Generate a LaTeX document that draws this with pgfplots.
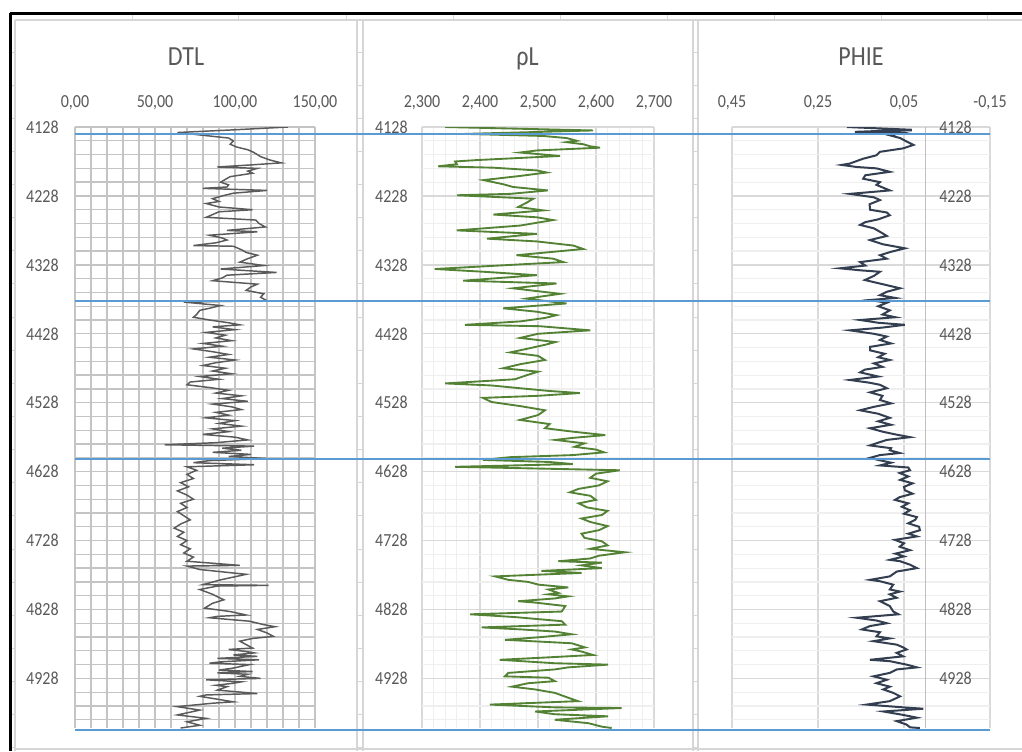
\documentclass[border=0pt]{standalone}
\usepackage{pgfplots}
\pgfplotsset{compat=1.18}
\usepackage{fontspec}
\setmainfont{Carlito}
\usepackage{graphicx}
\definecolor{txt}{HTML}{595959}
\definecolor{dtlgrid}{HTML}{C4C4C4}
\definecolor{majgrid}{HTML}{D9D9D9}
\definecolor{mingrid}{HTML}{EFEFEF}
\definecolor{axln}{HTML}{BFBFBF}
\definecolor{dtlc}{HTML}{5A5A5A}
\definecolor{rhoc}{HTML}{548235}
\definecolor{phic}{HTML}{333F50}
\definecolor{topc}{HTML}{5B9BD5}
\definecolor{cellc}{HTML}{D6D6D6}
\newcommand\sy[1]{\scalebox{1}[1.15]{#1}}
\pgfplotsset{
  logtrack/.style={
    scale only axis, height=450.75pt, anchor=north west,
    y dir=reverse, ymin=4128, ymax=5000,
    ytick={4128,4228,4328,4428,4528,4628,4728,4828,4928},
    minor ytick={4128,4148,...,4988},
    yticklabels={\sy{4128},\sy{4228},\sy{4328},\sy{4428},\sy{4528},\sy{4628},\sy{4728},\sy{4828},\sy{4928}},
    xticklabel pos=upper,
    axis line style={draw=none},
    major tick length=0pt, minor tick length=0pt,
    tick label style={font=\fontsize{12}{14}\selectfont, text=txt},
    xticklabel style={yshift=9.5pt},
    title style={font=\fontsize{18}{22}\selectfont, text=txt, anchor=center,
      text height=13.3pt, text depth=4pt, yshift=45pt},
    grid=both,
  }
}
\begin{document}
\begin{tikzpicture}
\begin{scope}[x=0.75pt,y=-0.75pt]
\useasboundingbox (0,0) rectangle (1022,751);
\fill[white] (0,0) rectangle (1022,751);
% spreadsheet cell marks
\foreach \cx in {132,238,346,453,560,667,774,881,987} {\draw[cellc, line width=0.75pt] (\cx,13) -- (\cx,20);}
\foreach \k in {0,...,21} {
  \draw[cellc, line width=0.75pt] (10,{52+33.14*\k}) -- (15,{52+33.14*\k});
  \draw[cellc, line width=0.75pt] (357,{52+33.14*\k}) -- (363,{52+33.14*\k});
  \draw[cellc, line width=0.75pt] (693,{52+33.14*\k}) -- (698,{52+33.14*\k});
}
% chart borders
\draw[cellc, line width=0.9pt] (15,20) -- (1022,20);
\draw[cellc, line width=0.9pt] (15,749) -- (1022,749);
\foreach \cx in {15,357,363,693,698} {\draw[cellc, line width=0.9pt] (\cx,20) -- (\cx,751);}
% sheet frame
\draw[black, line width=2.2pt] (10,13.3) -- (1022,13.3);
\draw[black, line width=2pt] (10.5,13.3) -- (10.5,751);
\end{scope}

% ---------------- DTL ----------------
\begin{axis}[logtrack, at={(56.25pt,-95.25pt)}, width=180pt,
  xmin=0, xmax=150, xtick={0,50,100,150}, minor xtick={0,10,...,150},
  xticklabels={\sy{0,00},\sy{50,00},\sy{100,00},\sy{150,00}},
  yticklabel style={xshift=-8.75pt},
  major grid style={dtlgrid, line width=1pt},
  minor grid style={dtlgrid, line width=1pt},
  title={\sy{DTL}}, title style={at={(axis description cs:0.4625,1)}}]
\addplot[dtlc, line width=1.1pt] table[x=v,y=d] {
d v
4128 133
4132 100
4136 64
4140 80
4144 96
4148 99
4153 97
4157 101
4161 108
4164 111
4168 114
4171 116
4176 122
4180 129
4183 110
4186 89
4188 114
4192 108
4195 111
4200 97
4204 94
4208 91
4212 96
4215 95
4217 80
4220 120
4224 99
4228 92
4232 86
4236 90
4239 82
4244 90
4248 111
4251 90
4255 86
4259 82
4263 113
4268 115
4273 119
4278 95
4280 114
4285 84
4289 92
4292 95
4296 88
4300 74
4301 99
4306 104
4310 107
4314 114
4319 108
4324 103
4329 118
4334 91
4339 126
4343 95
4347 92
4351 86
4356 114
4360 110
4365 107
4370 118
4375 116
4380 120
4382 68
4387 91
4391 84
4394 78
4400 76
4404 74
4408 84
4412 96
4415 103
4418 86
4422 100
4426 82
4430 94
4434 88
4438 98
4442 80
4446 92
4450 74
4454 86
4458 96
4462 84
4466 100
4470 88
4474 80
4478 94
4482 86
4486 98
4490 78
4494 90
4498 72
4502 70
4506 84
4510 96
4514 88
4518 104
4522 92
4526 108
4530 86
4534 98
4538 104
4542 88
4546 96
4550 82
4554 100
4558 90
4562 104
4566 86
4570 96
4574 80
4578 100
4582 108
4586 88
4589 56
4591 112
4594 92
4597 104
4600 86
4603 110
4606 96
4609 120
4612 84
4615 74
4618 112
4621 70
4626 76
4632 70
4638 74
4644 66
4650 71
4656 64
4662 70
4668 74
4674 66
4680 70
4686 64
4692 68
4698 72
4704 66
4710 62
4716 68
4722 64
4728 70
4734 66
4740 72
4746 68
4752 74
4758 70
4764 103
4765 70
4770 78
4777 107
4785 91
4792 80
4793 121
4794 89
4799 78
4806 86
4814 93
4819 86
4826 81
4831 97
4836 107
4838 89
4840 84
4843 99
4845 109
4850 118
4853 125
4857 114
4862 120
4867 124
4870 111
4874 103
4884 111
4886 96
4889 107
4891 112
4894 99
4896 114
4899 89
4901 115
4904 91
4906 84
4908 109
4913 99
4916 90
4918 111
4920 89
4922 108
4925 103
4928 116
4930 82
4933 104
4935 99
4938 88
4940 95
4945 89
4950 114
4952 82
4954 78
4962 99
4964 86
4969 64
4974 78
4981 64
4986 82
4991 70
4996 78
5000 66
};
\end{axis}

% ---------------- rhoL ----------------
\begin{axis}[logtrack, at={(316.5pt,-95.25pt)}, width=174pt,
  xmin=2.3, xmax=2.7, xtick={2.3,2.4,2.5,2.6,2.7}, minor x tick num=4,
  xticklabels={\sy{2,300},\sy{2,400},\sy{2,500},\sy{2,600},\sy{2,700}},
  yticklabel style={xshift=-7.25pt},
  major grid style={majgrid, line width=1pt},
  minor grid style={mingrid, line width=0.9pt},
  title={\sy{ρL}}, title style={at={(axis description cs:0.455,1)}}]
\addplot[rhoc, line width=1.4pt] table[x=v,y=d] {
d v
4128 2.340
4133 2.595
4138 2.374
4141 2.509
4144 2.549
4148 2.567
4150 2.549
4153 2.578
4156 2.590
4158 2.607
4162 2.498
4165 2.469
4170 2.538
4176 2.394
4178 2.357
4182 2.360
4185 2.328
4187 2.423
4191 2.498
4194 2.515
4199 2.469
4205 2.406
4211 2.440
4215 2.457
4220 2.517
4225 2.452
4227 2.360
4232 2.492
4238 2.480
4244 2.466
4249 2.509
4255 2.423
4259 2.498
4263 2.526
4271 2.469
4278 2.360
4283 2.498
4290 2.412
4294 2.498
4300 2.561
4305 2.578
4314 2.463
4319 2.526
4324 2.544
4326 2.498
4334 2.322
4338 2.406
4343 2.498
4351 2.371
4355 2.532
4362 2.457
4370 2.538
4377 2.480
4384 2.549
4391 2.440
4396 2.498
4401 2.532
4405 2.512
4410 2.470
4415 2.374
4417 2.503
4423 2.590
4428 2.500
4434 2.469
4440 2.530
4444 2.512
4450 2.480
4455 2.452
4460 2.500
4466 2.512
4472 2.470
4478 2.440
4483 2.500
4488 2.481
4494 2.460
4500 2.340
4503 2.420
4507 2.469
4511 2.520
4514 2.572
4518 2.500
4521 2.405
4527 2.420
4533 2.470
4539 2.512
4546 2.500
4553 2.469
4559 2.520
4565 2.512
4570 2.560
4575 2.616
4579 2.560
4582 2.530
4587 2.580
4592 2.563
4596 2.600
4600 2.614
4604 2.560
4607 2.452
4611 2.405
4614 2.520
4617 2.560
4621 2.357
4626 2.641
4631 2.600
4637 2.590
4642 2.620
4648 2.605
4653 2.570
4658 2.555
4663 2.590
4669 2.600
4674 2.570
4680 2.585
4685 2.620
4691 2.610
4696 2.575
4701 2.590
4707 2.620
4713 2.605
4718 2.575
4724 2.580
4729 2.610
4735 2.620
4740 2.590
4745 2.650
4750 2.605
4754 2.590
4758 2.535
4760 2.610
4764 2.575
4768 2.610
4772 2.506
4775 2.575
4780 2.426
4785 2.449
4788 2.483
4792 2.501
4796 2.552
4799 2.518
4804 2.535
4806 2.518
4809 2.552
4812 2.529
4816 2.466
4818 2.495
4823 2.547
4831 2.541
4835 2.383
4839 2.460
4845 2.541
4850 2.547
4854 2.403
4857 2.472
4860 2.529
4864 2.558
4868 2.506
4872 2.443
4877 2.558
4883 2.581
4886 2.558
4889 2.575
4894 2.595
4898 2.506
4901 2.434
4906 2.529
4908 2.621
4912 2.552
4915 2.529
4920 2.449
4925 2.443
4927 2.518
4932 2.529
4935 2.483
4940 2.455
4944 2.495
4949 2.529
4956 2.552
4961 2.569
4966 2.417
4970 2.529
4971 2.644
4976 2.495
4980 2.529
4983 2.621
4988 2.529
4993 2.587
4998 2.610
5000 2.627
};
\end{axis}

% ---------------- PHIE ----------------
\begin{axis}[logtrack, at={(549pt,-95.25pt)}, width=193.5pt,
  x dir=reverse, xmin=-0.15, xmax=0.45, xtick={-0.15,0.05,0.25,0.45},
  xticklabels={\sy{-0,15},\sy{0,05},\sy{0,25},\sy{0,45}},
  yticklabel pos=right, yticklabel style={xshift=-41.5pt},
  major grid style={majgrid, line width=1pt},
  minor grid style={mingrid, line width=0.9pt},
  extra x ticks={0}, extra x tick labels={},
  extra x tick style={grid=major, major grid style={axln, line width=1.1pt}},
  title={\sy{PHIE}}, title style={at={(axis description cs:0.5,1)}}]
\addplot[phic, line width=1.5pt] table[x=v,y=d] {
d v
4128 0.183
4132 0.032
4135 0.164
4136 0.052
4140 0.083
4144 0.059
4149 0.044
4154 0.028
4159 0.052
4164 0.106
4169 0.114
4174 0.145
4181 0.176
4183 0.195
4186 0.160
4188 0.114
4193 0.083
4198 0.140
4203 0.145
4208 0.106
4212 0.114
4220 0.083
4225 0.176
4230 0.120
4234 0.106
4240 0.130
4248 0.129
4252 0.090
4256 0.083
4262 0.110
4266 0.140
4270 0.152
4275 0.120
4280 0.106
4286 0.090
4292 0.129
4298 0.100
4304 0.048
4309 0.080
4314 0.106
4319 0.090
4324 0.152
4329 0.140
4333 0.199
4336 0.150
4338 0.106
4344 0.120
4350 0.141
4356 0.100
4362 0.059
4367 0.090
4372 0.106
4376 0.070
4379 0.129
4383 0.090
4388 0.110
4394 0.083
4400 0.100
4404 0.070
4408 0.152
4412 0.110
4415 0.048
4419 0.100
4423 0.176
4428 0.120
4432 0.090
4437 0.106
4442 0.080
4447 0.129
4452 0.129
4457 0.095
4462 0.110
4466 0.083
4471 0.120
4476 0.100
4480 0.141
4484 0.152
4490 0.110
4495 0.176
4499 0.130
4502 0.106
4507 0.090
4513 0.129
4518 0.100
4524 0.106
4529 0.080
4534 0.120
4539 0.152
4544 0.110
4550 0.083
4555 0.110
4560 0.080
4565 0.129
4570 0.100
4574 0.070
4578 0.036
4582 0.090
4586 0.110
4590 0.129
4594 0.080
4597 0.083
4601 0.060
4604 0.106
4608 0.129
4611 0.110
4615 0.080
4619 0.106
4622 0.040
4626 0.036
4630 0.060
4635 0.040
4640 0.059
4645 0.030
4650 0.050
4655 0.048
4660 0.030
4665 0.060
4669 0.071
4674 0.040
4679 0.055
4684 0.036
4689 0.050
4694 0.020
4698 0.024
4703 0.040
4708 0.015
4713 0.013
4718 0.040
4722 0.020
4727 0.071
4732 0.050
4737 0.060
4742 0.036
4747 0.070
4751 0.050
4756 0.083
4758 0.059
4763 0.036
4768 0.020
4773 0.067
4780 0.083
4785 0.129
4787 0.106
4792 0.075
4799 0.083
4802 0.059
4806 0.083
4811 0.067
4816 0.106
4823 0.083
4831 0.075
4835 0.063
4838 0.121
4840 0.160
4844 0.114
4848 0.090
4852 0.129
4857 0.148
4861 0.106
4867 0.114
4870 0.083
4874 0.121
4879 0.067
4883 0.052
4886 0.044
4891 0.067
4896 0.052
4901 0.129
4903 0.083
4908 0.044
4912 0.020
4915 0.067
4920 0.083
4925 0.121
4930 0.090
4935 0.114
4940 0.083
4944 0.098
4949 0.075
4954 0.059
4961 0.083
4966 0.137
4970 0.052
4972 0.005
4976 0.098
4981 0.052
4985 0.020
4990 0.067
4995 0.044
4999 0.036
5000 0.013
};
\end{axis}

% ---------------- formation tops (across all tracks) ----------------
\begin{axis}[at={(56.25pt,-95.25pt)}, anchor=north west, scale only axis,
  width=686.25pt, height=450.75pt, hide axis, clip=false,
  xmin=0, xmax=1, y dir=reverse, ymin=4128, ymax=5000]
\addplot[topc, line width=1.1pt] coordinates {(0,4138) (1,4138)};
\addplot[topc, line width=1.1pt] coordinates {(0,4380.5) (1,4380.5)};
\addplot[topc, line width=1.1pt] coordinates {(0,4610) (1,4610)};
\addplot[topc, line width=1.1pt] coordinates {(0,5003) (1,5003)};
\end{axis}
\end{tikzpicture}
\end{document}
